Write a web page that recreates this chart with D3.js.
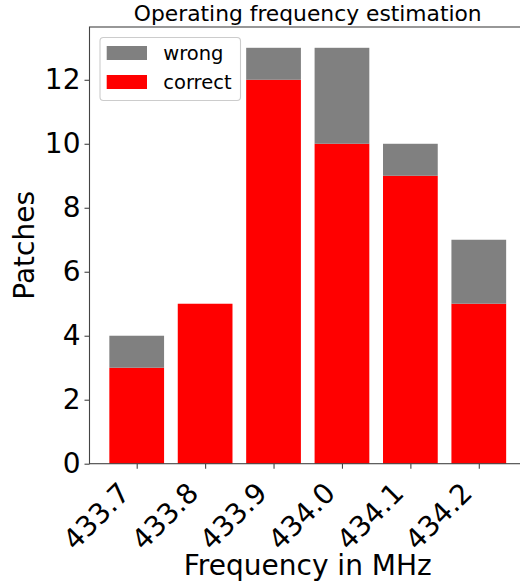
<!DOCTYPE html>
<html>
<head>
<meta charset="utf-8">
<script src="https://cdn.jsdelivr.net/npm/d3@7"></script>
<style>
  html, body { margin: 0; padding: 0; background: #fff; }
  svg { display: block; font-family: "DejaVu Sans", sans-serif; }
</style>
</head>
<body>
<svg id="chart" width="520" height="586"></svg>
<script>
// Frequency bins and patch counts per bin
const categories = ["433.7", "433.8", "433.9", "434.0", "434.1", "434.2"];
const correct = [3, 5, 12, 10, 9, 5];
const wrong = [1, 0, 1, 3, 1, 2];
const yTicks = [0, 2, 4, 6, 8, 10, 12];
const seriesNames = ["wrong", "correct"];
const seriesColors = { wrong: "#808080", correct: "#ff0000" };

const svg = d3.select("#chart");

const plot = { left: 89.5, right: 526, top: 27, bottom: 463.7 };

// Bars sit at integer positions, 0.8 wide, with 5% margins on the x range
const x = d3.scaleLinear()
  .domain([-0.69, categories.length - 1 + 0.69])
  .range([plot.left, plot.right]);
const barW = x(0.8) - x(0);

const totals = correct.map((c, i) => c + wrong[i]);
const yMax = d3.max(totals) * 1.05;
const y = d3.scaleLinear().domain([0, yMax]).range([plot.bottom, plot.top]);

const rows = categories.map((c, i) => ({ cat: c, i, correct: correct[i], wrong: wrong[i] }));
const stacked = d3.stack().keys(["correct", "wrong"])(rows);

// Stacked bars
svg.append("g").selectAll("g")
  .data(stacked)
  .join("g")
  .attr("fill", d => seriesColors[d.key])
  .selectAll("rect")
  .data(d => d)
  .join("rect")
  .attr("x", d => x(d.data.i) - barW / 2)
  .attr("width", barW)
  .attr("y", d => y(d[1]))
  .attr("height", d => y(d[0]) - y(d[1]));

// Axes
const axisColor = "#444";
const yAxis = svg.append("g")
  .attr("transform", `translate(${plot.left},0)`)
  .call(d3.axisLeft(y).tickValues(yTicks).tickFormat(d3.format("d")).tickSize(5).tickPadding(4));
yAxis.select(".domain").remove();
yAxis.selectAll(".tick line").attr("stroke", axisColor).attr("stroke-width", 1.1);
yAxis.selectAll(".tick text")
  .attr("font-size", 28)
  .attr("font-family", "DejaVu Sans")
  .attr("fill", "#000");

const xAxis = svg.append("g")
  .attr("transform", `translate(0,${plot.bottom})`)
  .call(d3.axisBottom(x).tickValues(d3.range(categories.length))
    .tickFormat(i => categories[i]).tickSize(5));
xAxis.select(".domain").remove();
xAxis.selectAll(".tick line").attr("stroke", axisColor).attr("stroke-width", 1.1);
xAxis.selectAll(".tick text")
  .attr("font-size", 28)
  .attr("font-family", "DejaVu Sans")
  .attr("fill", "#000")
  .attr("text-anchor", "end")
  .attr("dy", null)
  .attr("y", null)
  .attr("transform", "translate(-5.5,31) rotate(-45)");

// Frame
svg.append("rect")
  .attr("x", plot.left).attr("y", plot.top)
  .attr("width", plot.right - plot.left).attr("height", plot.bottom - plot.top)
  .attr("fill", "none").attr("stroke", axisColor).attr("stroke-width", 1.1);

// Title and axis labels
const cx = (plot.left + plot.right) / 2;
svg.append("text")
  .attr("x", cx).attr("y", 20.5)
  .attr("text-anchor", "middle").attr("font-size", 21.8)
  .text("Operating frequency estimation");

svg.append("text")
  .attr("x", cx).attr("y", 575)
  .attr("text-anchor", "middle").attr("font-size", 28)
  .text("Frequency in MHz");

svg.append("text")
  .attr("transform", `translate(33.5,${(plot.top + plot.bottom) / 2}) rotate(-90)`)
  .attr("text-anchor", "middle").attr("font-size", 28)
  .text("Patches");

// Legend
const legend = svg.append("g");
legend.append("rect")
  .attr("x", 100).attr("y", 37.5).attr("width", 140.5).attr("height", 63)
  .attr("rx", 3.5).attr("fill", "#fff").attr("fill-opacity", 0.8)
  .attr("stroke", "#cccccc").attr("stroke-width", 1.1);
seriesNames.forEach((name, k) => {
  const top = 46 + k * 29;
  legend.append("rect")
    .attr("x", 106.7).attr("y", top).attr("width", 40.3).attr("height", 14)
    .attr("fill", seriesColors[name]);
  legend.append("text")
    .attr("x", 163.3).attr("y", top + 7).attr("dy", "0.35em")
    .attr("font-size", 19.5)
    .text(name);
});
</script>
</body>
</html>
